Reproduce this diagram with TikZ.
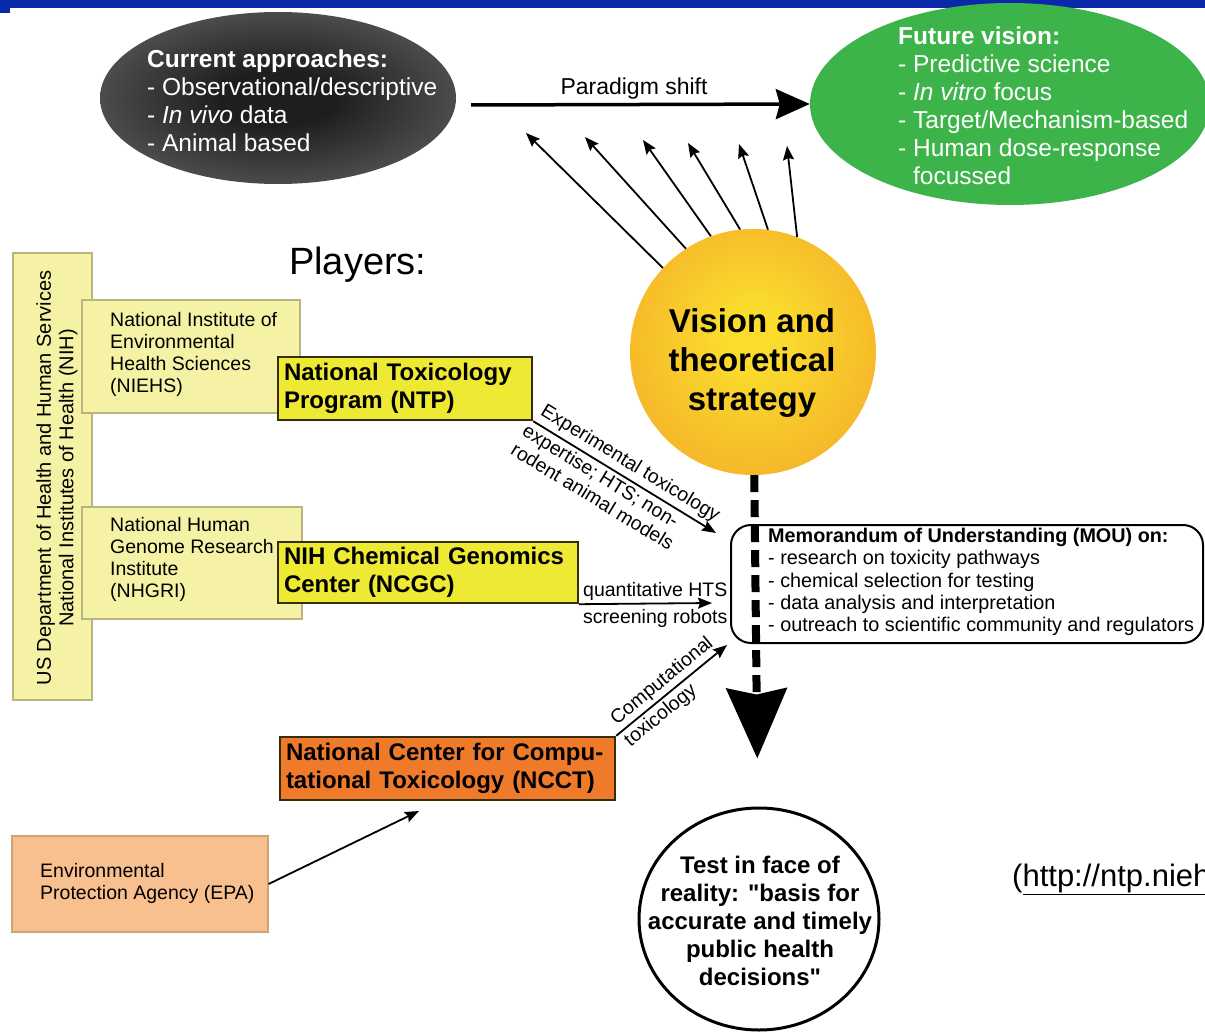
\documentclass[tikz,border=0pt]{standalone}
\usepackage{fontspec}
\setmainfont{Liberation Sans}
\usetikzlibrary{arrows.meta,shapes.geometric}
\definecolor{barblue}{RGB}{10,40,170}
\definecolor{fgreen}{RGB}{60,180,74}
\definecolor{lbfill}{RGB}{246,242,165}
\definecolor{lbdraw}{RGB}{185,180,130}
\definecolor{ybfill}{RGB}{238,233,50}
\definecolor{ybdraw}{RGB}{55,45,10}
\definecolor{obfill}{RGB}{238,122,42}
\definecolor{epafill}{RGB}{248,192,142}
\definecolor{epadraw}{RGB}{205,165,125}
\definecolor{sunin}{RGB}{250,220,45}
\definecolor{sunmid}{RGB}{246,185,42}
\definecolor{sunout}{RGB}{240,160,35}
\definecolor{ga}{RGB}{30,30,30}
\definecolor{gb}{RGB}{100,100,100}
\definecolor{gc}{RGB}{175,175,175}
\pgfdeclareradialshading{sunshade}{\pgfpoint{0bp}{4bp}}{color(0bp)=(sunin); color(6bp)=(sunin); color(26bp)=(sunmid); color(50bp)=(sunout)}
\pgfdeclareradialshading{grayshade}{\pgfpoint{0bp}{0bp}}{color(0bp)=(ga); color(8bp)=(ga); color(34bp)=(gb); color(50bp)=(gc)}
\newcommand\myfs[2]{\fontsize{#1}{#2}\selectfont}
\tikzset{
 lbox/.style={rectangle, draw=lbdraw, fill=lbfill, line width=1.2pt, inner sep=0pt},
 ybox/.style={rectangle, draw=ybdraw, fill=ybfill, line width=2.4pt, inner xsep=6pt, inner ysep=0pt, align=left, font=\myfs{24}{28}\bfseries},
 epabox/.style={rectangle, draw=epadraw, fill=epafill, line width=1.2pt, inner sep=0pt},
 smalltxt/.style={font=\myfs{19.5}{22}, align=left, inner sep=0pt},
 lbl/.style={font=\myfs{19.5}{22}, align=left, inner sep=1pt},
 bigtxt/.style={font=\myfs{24.5}{28}, text=white, align=left, inner sep=0pt},
 thinarrow/.style={-{Stealth[length=14pt,width=11pt,inset=2pt]}, line width=1.8pt},
 bigarrow/.style={-{Stealth[length=34pt,width=30pt,inset=4pt]}, line width=3.5pt},
 dasharrow/.style={-{Stealth[length=70pt,width=60pt,inset=6pt]}, line width=8pt, dash pattern=on 17pt off 8pt},
}
\begin{document}
\begin{tikzpicture}[x=1pt,y=-1pt]
\useasboundingbox (0,0) rectangle (1205,1032);
\clip (0,0) rectangle (1205,1032);
\fill[white] (0,0) rectangle (1205,1032);
% top bar
\fill[barblue] (0,0) rectangle (1205,8);
\fill[barblue] (0,0) rectangle (10,13);
% current approaches
\node[ellipse, shade, shading=grayshade, minimum width=356pt, minimum height=172pt, inner sep=0pt] (cur) at (278,98) {};
\node[bigtxt, anchor=west] (curt) at (147,101) {\textbf{Current approaches:}\\- Observational/descriptive\\- \textit{In vivo} data\\- Animal based};
% future vision
\node[ellipse, fill=fgreen, minimum width=400pt, minimum height=202pt, inner sep=0pt] (fut) at (1010,104) {};
\node[bigtxt, anchor=west] (futt) at (898,106) {\textbf{Future vision:}\\- Predictive science\\- \textit{In vitro} focus\\- Target/Mechanism-based\\- Human dose-response\\\phantom{- }focussed};
% paradigm shift
\draw[bigarrow] ([shift={(15,7)}]cur.east) -- (fut.west);
\node[font=\myfs{23}{26}] (pst) at (634,89) {Paradigm shift};
% sun
\node[circle, shade, shading=sunshade, minimum size=246pt, inner sep=0pt] (sun) at (753,352) {};
\node[font=\myfs{33}{39}\bfseries, align=center, inner sep=0pt] (sunt) at (752,363) {Vision and\\theoretical\\strategy};
\coordinate (h1) at (526,133);
\coordinate (h2) at (585,137);
\coordinate (h3) at (643,140);
\coordinate (h4) at (688,143);
\coordinate (h5) at (739,144);
\coordinate (h6) at (787,146);
\draw[thinarrow] (sun.137) -- (h1);
\draw[thinarrow] (sun.123) -- (h2);
\draw[thinarrow] (sun.110) -- (h3);
\draw[thinarrow] (sun.96) -- (h4);
\draw[thinarrow] (sun.83) -- (h5);
\draw[thinarrow] (sun.69) -- (h6);
% players
\node[font=\myfs{38}{40}, anchor=west, inner sep=0pt] (players) at (289,265) {Players:};
% left boxes
\node[lbox, minimum width=79pt, minimum height=447pt] (us) at (52.5,476.5) {};
\node[font=\myfs{20}{22.5}, align=center, rotate=90, inner sep=0pt] (ust) at (57,478) {US Department of Health and Human Services\\National Institutes of Health (NIH)};
\node[lbox, minimum width=218pt, minimum height=113pt] (niehs) at (191,356.5) {};
\node[smalltxt, anchor=west] (niehst) at (110,354) {National Institute of\\Environmental\\Health Sciences\\(NIEHS)};
\node[lbox, minimum width=220pt, minimum height=112pt] (nhgri) at (192,563) {};
\node[smalltxt, anchor=west] (nhgrit) at (110,559) {National Human\\Genome Research\\Institute\\(NHGRI)};
\node[ybox, text width=242pt, minimum height=63pt] (ntp) at (405,388.5) {National Toxicology\\Program (NTP)};
\node[ybox, text width=288pt, minimum height=61pt] (ncgc) at (428,572.5) {NIH Chemical Genomics\\Center (NCGC)};
\node[ybox, fill=obfill, text width=323pt, minimum height=63pt] (ncct) at (447.5,768.5) {National Center for Compu-\\tational Toxicology (NCCT)};
\node[epabox, minimum width=256pt, minimum height=96pt] (epa) at (140,884) {};
\node[smalltxt, anchor=west] (epat) at (40,883) {Environmental\\Protection Agency (EPA)};
% MOU
\node[draw, line width=2pt, rounded corners=20pt, fill=white, minimum width=472pt, minimum height=118pt, inner sep=0pt] (mou) at (967,584) {};
\node[font=\myfs{19.8}{22.3}, align=left, anchor=west, inner sep=0pt] (mout) at (768,582) {\textbf{Memorandum of Understanding (MOU) on:}\\- research on toxicity pathways\\- chemical selection for testing\\- data analysis and interpretation\\- outreach to scientific community and regulators};
% test
\node[ellipse, draw, line width=3pt, minimum width=240pt, minimum height=222pt, inner sep=0pt] (test) at (759,919) {};
\node[font=\myfs{24}{28}\bfseries, align=center, inner sep=0pt] (testt) at (760,921) {Test in face of\\reality: \textquotedbl basis for\\accurate and timely\\public health\\decisions\textquotedbl};
% dashed arrow
\draw[dasharrow, shorten >=48pt] (sun) -- (test);
% connectors with labels
\coordinate (entp) at (716,533);
\draw[thinarrow] (ntp.south east) -- node[lbl, sloped, above=3pt, pos=0.49] {Experimental toxicology} node[lbl, sloped, below=2pt, pos=0.42] {expertise; HTS; non-\\rodent animal models} (entp);
\coordinate (encgc) at (712,603);
\draw[thinarrow] (ncgc.south east) -- (encgc);
\node[lbl, anchor=west] (q1) at (582,591) {quantitative HTS};
\node[lbl, anchor=west] (q2) at (582,618) {screening robots};
\coordinate (encct) at (727,645);
\draw[thinarrow] (ncct.north east) -- node[lbl, sloped, above=2pt, pos=0.49] {Computational} node[lbl, sloped, below=2pt, pos=0.33] {toxicology} (encct);
\coordinate (enepa) at (419,811);
\draw[thinarrow] (epa.east) -- (enepa);
% url
\node[font=\myfs{31}{33}, anchor=west, inner sep=0pt] (url) at (1012,879) {(\underline{http://ntp.niehs.nih.gov})};
\end{tikzpicture}
\end{document}
